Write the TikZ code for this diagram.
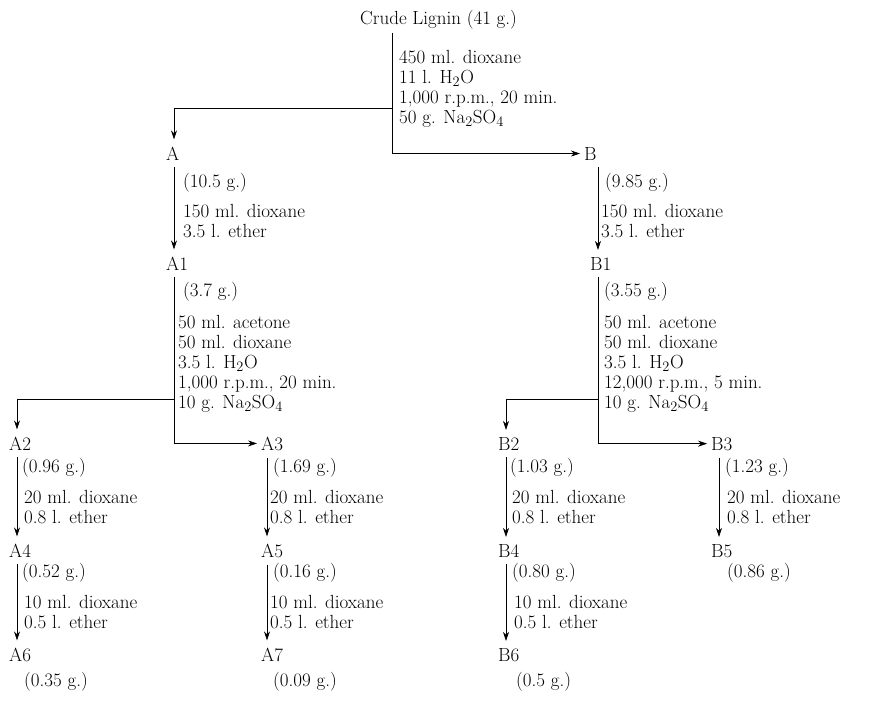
\documentclass[tikz,border=0pt]{standalone}
\usepackage{tikz}
\usetikzlibrary{arrows.meta,calc}
\tikzset{
  lab/.style={anchor=base west, inner xsep=4pt, inner ysep=7pt},
  wt/.style={anchor=base west, inner sep=0pt},
  cond/.style={anchor=north west, inner sep=0pt, align=left},
  ln/.style={line width=0.6pt},
  arr/.style={ln, -{Stealth[length=9pt,width=6pt]}},
}
\begin{document}
\begin{tikzpicture}[x=1pt,y=-1pt,font=\fontsize{19}{20}\selectfont]
  \useasboundingbox (0,0) rectangle (874,706);
  % columns of the flow lines
  \coordinate (x0) at (392,0);
  \coordinate (xa) at (174,0);
  \coordinate (xb) at (598,0);
  \coordinate (xa2) at (17,0);
  \coordinate (xa3) at (267,0);
  \coordinate (xb2) at (506,0);
  \coordinate (xb3) at (719,0);
  \coordinate (f0) at (392,108);
  \coordinate (f1) at (174,399);
  \coordinate (f2) at (598,399);

  \node[lab,inner ysep=3pt] (crude) at (356,25) {Crude Lignin (41 g.)};
  \node[cond] (c0) at (399,50) {450 ml. dioxane\\11 l. H$_2$O\\1,000 r.p.m., 20 min.\\50 g. Na$_2$SO$_4$};

  \node[lab] (A) at (162,160) {A};
  \node[lab] (B) at (580,160) {B};
  \node[wt] (wA) at (183,187) {(10.5 g.)};
  \node[wt] (wB) at (605,187) {(9.85 g.)};
  \node[cond] (cA) at (183,204) {150 ml. dioxane\\3.5 l. ether};
  \node[cond] (cB) at (601,204) {150 ml. dioxane\\3.5 l. ether};

  \node[lab] (A1) at (162,270) {A1};
  \node[lab] (B1) at (586,270) {B1};
  \node[wt] (wA1) at (183,296) {(3.7 g.)};
  \node[wt] (wB1) at (604,296) {(3.55 g.)};
  \node[cond] (cA1) at (178,315) {50 ml. acetone\\50 ml. dioxane\\3.5 l. H$_2$O\\1,000 r.p.m., 20 min.\\10 g. Na$_2$SO$_4$};
  \node[cond] (cB1) at (604,315) {50 ml. acetone\\50 ml. dioxane\\3.5 l. H$_2$O\\12,000 r.p.m., 5 min.\\10 g. Na$_2$SO$_4$};

  \node[lab] (A2) at (5,450) {A2};
  \node[lab] (A3) at (257,450) {A3};
  \node[lab] (B2) at (494,450) {B2};
  \node[lab] (B3) at (707,450) {B3};
  \node[wt] (wA2) at (22,472) {(0.96 g.)};
  \node[wt] (wA3) at (273,472) {(1.69 g.)};
  \node[wt] (wB2) at (510,472) {(1.03 g.)};
  \node[wt] (wB3) at (725,472) {(1.23 g.)};
  \node[cond] (cA2) at (24,490) {20 ml. dioxane\\0.8 l. ether};
  \node[cond] (cA3) at (270,490) {20 ml. dioxane\\0.8 l. ether};
  \node[cond] (cB2) at (512,490) {20 ml. dioxane\\0.8 l. ether};
  \node[cond] (cB3) at (727,490) {20 ml. dioxane\\0.8 l. ether};

  \node[lab] (A4) at (5,557) {A4};
  \node[lab] (A5) at (257,557) {A5};
  \node[lab] (B4) at (494,557) {B4};
  \node[lab] (B5) at (707,557) {B5};
  \node[wt] (wA4) at (22,577) {(0.52 g.)};
  \node[wt] (wA5) at (273,577) {(0.16 g.)};
  \node[wt] (wB4) at (512,577) {(0.80 g.)};
  \node[wt] (wB5) at (727,577) {(0.86 g.)};
  \node[cond] (cA4) at (24,595) {10 ml. dioxane\\0.5 l. ether};
  \node[cond] (cA5) at (270,595) {10 ml. dioxane\\0.5 l. ether};
  \node[cond] (cB4) at (514,595) {10 ml. dioxane\\0.5 l. ether};

  \node[lab] (A6) at (5,661) {A6};
  \node[lab] (A7) at (257,661) {A7};
  \node[lab] (B6) at (494,661) {B6};
  \node[wt] (wA6) at (24,686) {(0.35 g.)};
  \node[wt] (wA7) at (273,686) {(0.09 g.)};
  \node[wt] (wB6) at (516,686) {(0.5 g.)};

  \draw[arr] (crude.south -| x0) |- (B.west);
  \draw[arr] (f0) -| (A.north -| xa);
  \draw[arr] (A.south -| xa) -- (A1.north -| xa);
  \draw[arr] (B.south -| xb) -- (B1.north -| xb);
  \draw[arr] (A1.south -| xa) |- (A3.west);
  \draw[arr] (f1) -| (A2.north -| xa2);
  \draw[arr] (B1.south -| xb) |- (B3.west);
  \draw[arr] (f2) -| (B2.north -| xb2);
  \draw[arr] (A2.south -| xa2) -- (A4.north -| xa2);
  \draw[arr] (A4.south -| xa2) -- (A6.north -| xa2);
  \draw[arr] (A3.south -| xa3) -- (A5.north -| xa3);
  \draw[arr] (A5.south -| xa3) -- (A7.north -| xa3);
  \draw[arr] (B2.south -| xb2) -- (B4.north -| xb2);
  \draw[arr] (B4.south -| xb2) -- (B6.north -| xb2);
  \draw[arr] (B3.south -| xb3) -- (B5.north -| xb3);
\end{tikzpicture}
\end{document}
